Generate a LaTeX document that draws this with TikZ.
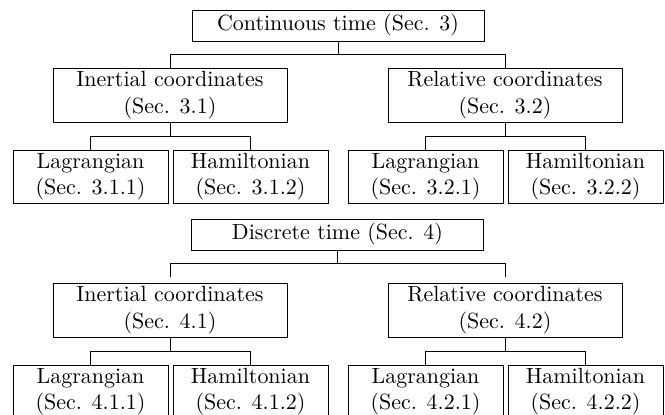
\documentclass[tikz,border=0pt]{standalone}
\begin{document}
\begin{tikzpicture}[x=0.455pt, y=-0.455pt]
	\tikzstyle{every node}=[draw, inner sep=1pt, align=center]
	\tikzstyle{rootbox}=[minimum width=132.9pt, minimum height=14.1pt]
	\tikzstyle{midbox}=[minimum width=106.5pt, minimum height=24.6pt]
	\tikzstyle{leafbox}=[minimum width=70.5pt, minimum height=24.1pt]
	\useasboundingbox (0, 0) rectangle (665, 415);
	% continuous time
	\node[rootbox] (C) at (338, 25.5) {Continuous time (Sec. 3)};
	\node[midbox] (CI) at (170, 95) {Inertial coordinates\\(Sec. 3.1)};
	\node[midbox] (CR) at (505, 95) {Relative coordinates\\(Sec. 3.2)};
	\node[leafbox] (CIL) at (90.5, 176.5) {Lagrangian\\(Sec. 3.1.1)};
	\node[leafbox] (CIH) at (250.5, 176.5) {Hamiltonian\\(Sec. 3.1.2)};
	\node[leafbox] (CRL) at (425.5, 176.5) {Lagrangian\\(Sec. 3.2.1)};
	\node[leafbox] (CRH) at (585.5, 176.5) {Hamiltonian\\(Sec. 3.2.2)};
	\draw (C.south) -- ++(0, 13) -| (CI.north);
	\draw (C.south) -- ++(0, 13) -| (CR.north);
	\draw (CI.south) -- ++(0, 14) -| (CIL.north);
	\draw (CI.south) -- ++(0, 14) -| (CIH.north);
	\draw (CR.south) -- ++(0, 14) -| (CRL.north);
	\draw (CR.south) -- ++(0, 14) -| (CRH.north);
	% discrete time
	\node[rootbox] (D) at (337.5, 234.5) {Discrete time (Sec. 4)};
	\node[midbox] (DI) at (170, 310) {Inertial coordinates\\(Sec. 4.1)};
	\node[midbox] (DR) at (505, 310) {Relative coordinates\\(Sec. 4.2)};
	\node[leafbox] (DIL) at (90.5, 391.5) {Lagrangian\\(Sec. 4.1.1)};
	\node[leafbox] (DIH) at (250.5, 391.5) {Hamiltonian\\(Sec. 4.1.2)};
	\node[leafbox] (DRL) at (425.5, 391.5) {Lagrangian\\(Sec. 4.2.1)};
	\node[leafbox] (DRH) at (585.5, 391.5) {Hamiltonian\\(Sec. 4.2.2)};
	\draw (D.south) -- ++(0, 13) -| ([yshift=2.3pt]DI.north);
	\draw (D.south) -- ++(0, 13) -| ([yshift=2.3pt]DR.north);
	\draw (DI.south) -- ++(0, 14) -| (DIL.north);
	\draw (DI.south) -- ++(0, 14) -| (DIH.north);
	\draw (DR.south) -- ++(0, 14) -| (DRL.north);
	\draw (DR.south) -- ++(0, 14) -| (DRH.north);
\end{tikzpicture}
\end{document}
